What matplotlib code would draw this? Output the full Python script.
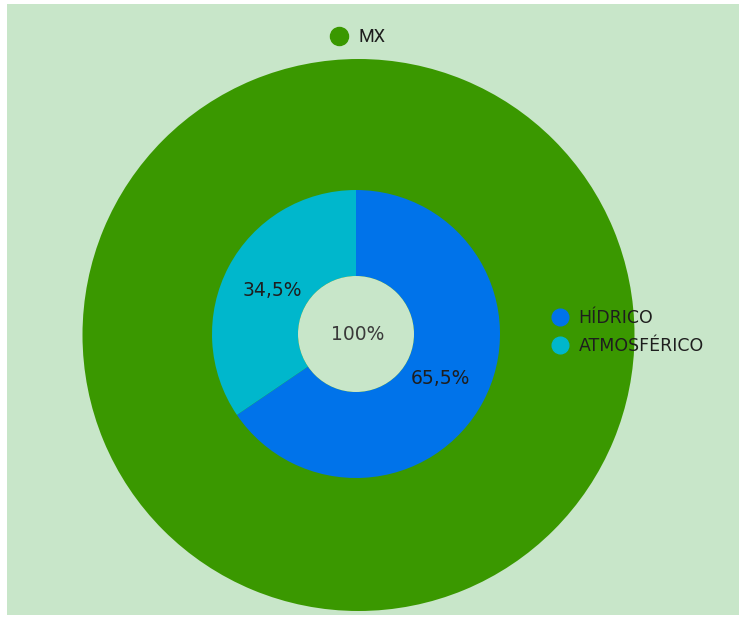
import matplotlib.pyplot as plt
from matplotlib.patches import Circle, Rectangle
from matplotlib.lines import Line2D

# sunburst data
root_label = "MX"
root_value = [100]
root_text = "100%"
categories = ["HÍDRICO", "ATMOSFÉRICO"]
shares = [65.5, 34.5]
share_labels = ["65,5%", "34,5%"]

BG = "#c8e6c9"
GREEN = "#3a9800"
COLORS = ["#0073ea", "#00b7cc"]
TXT = "#1e1e1e"

W, H = 739, 618
fig = plt.figure(figsize=(W / 100, H / 100), dpi=100, facecolor="white")
ax = fig.add_axes([0, 0, 1, 1])

# light green panel
ax.add_patch(Rectangle((7, 3), W - 7, H - 7, facecolor=BG, edgecolor="none", zorder=0))

# outer ring (country)
ax.pie(root_value, colors=[GREEN], radius=276, center=(358.5, H - 335),
       wedgeprops=dict(linewidth=0), frame=True)

# inner ring (types)
icx, icy = 356, H - 334
ax.pie(shares, colors=COLORS, radius=144, center=(icx, icy),
       startangle=90, counterclock=False,
       wedgeprops=dict(width=144 - 58, linewidth=0), frame=True)
ax.add_patch(Circle((icx, icy), 58, facecolor=BG, edgecolor="none", zorder=3))

ax.set_xlim(0, W)
ax.set_ylim(0, H)
ax.set_aspect("equal")
ax.axis("off")

font = dict(family=["DejaVu Sans"], color=TXT, fontsize=13.5)
ax.text(358, H - 334, root_text, ha="center", va="center", zorder=4, color="#3a3a3a",
        family="DejaVu Sans", fontsize=13.5)
ax.text(440, H - 379, share_labels[0], ha="center", va="center", zorder=4, **font)
ax.text(272, H - 291, share_labels[1], ha="center", va="center", zorder=4, **font)

# legends
top_h = [Line2D([], [], marker="o", linestyle="none", markersize=13,
                markerfacecolor=GREEN, markeredgecolor=GREEN)]
leg1 = ax.legend(top_h, [root_label], loc="center", bbox_to_anchor=(353 / W, 1 - 37 / H),
                 frameon=False, handletextpad=0.1, borderaxespad=0, borderpad=0,
                 prop=dict(family="Roboto", size=13))
for t in leg1.get_texts():
    t.set_color(TXT)
ax.add_artist(leg1)

side_h = [Line2D([], [], marker="o", linestyle="none", markersize=12,
                 markerfacecolor=c, markeredgecolor=c) for c in COLORS]
leg2 = ax.legend(side_h, categories, loc="upper left", bbox_to_anchor=(543 / W, 1 - 309 / H),
                 frameon=False, handletextpad=0.05, labelspacing=0.6, borderaxespad=0,
                 borderpad=0, prop=dict(family="DejaVu Sans", size=12.5))
for t in leg2.get_texts():
    t.set_color(TXT)

fig.savefig("out.png", dpi=100, facecolor="white")
